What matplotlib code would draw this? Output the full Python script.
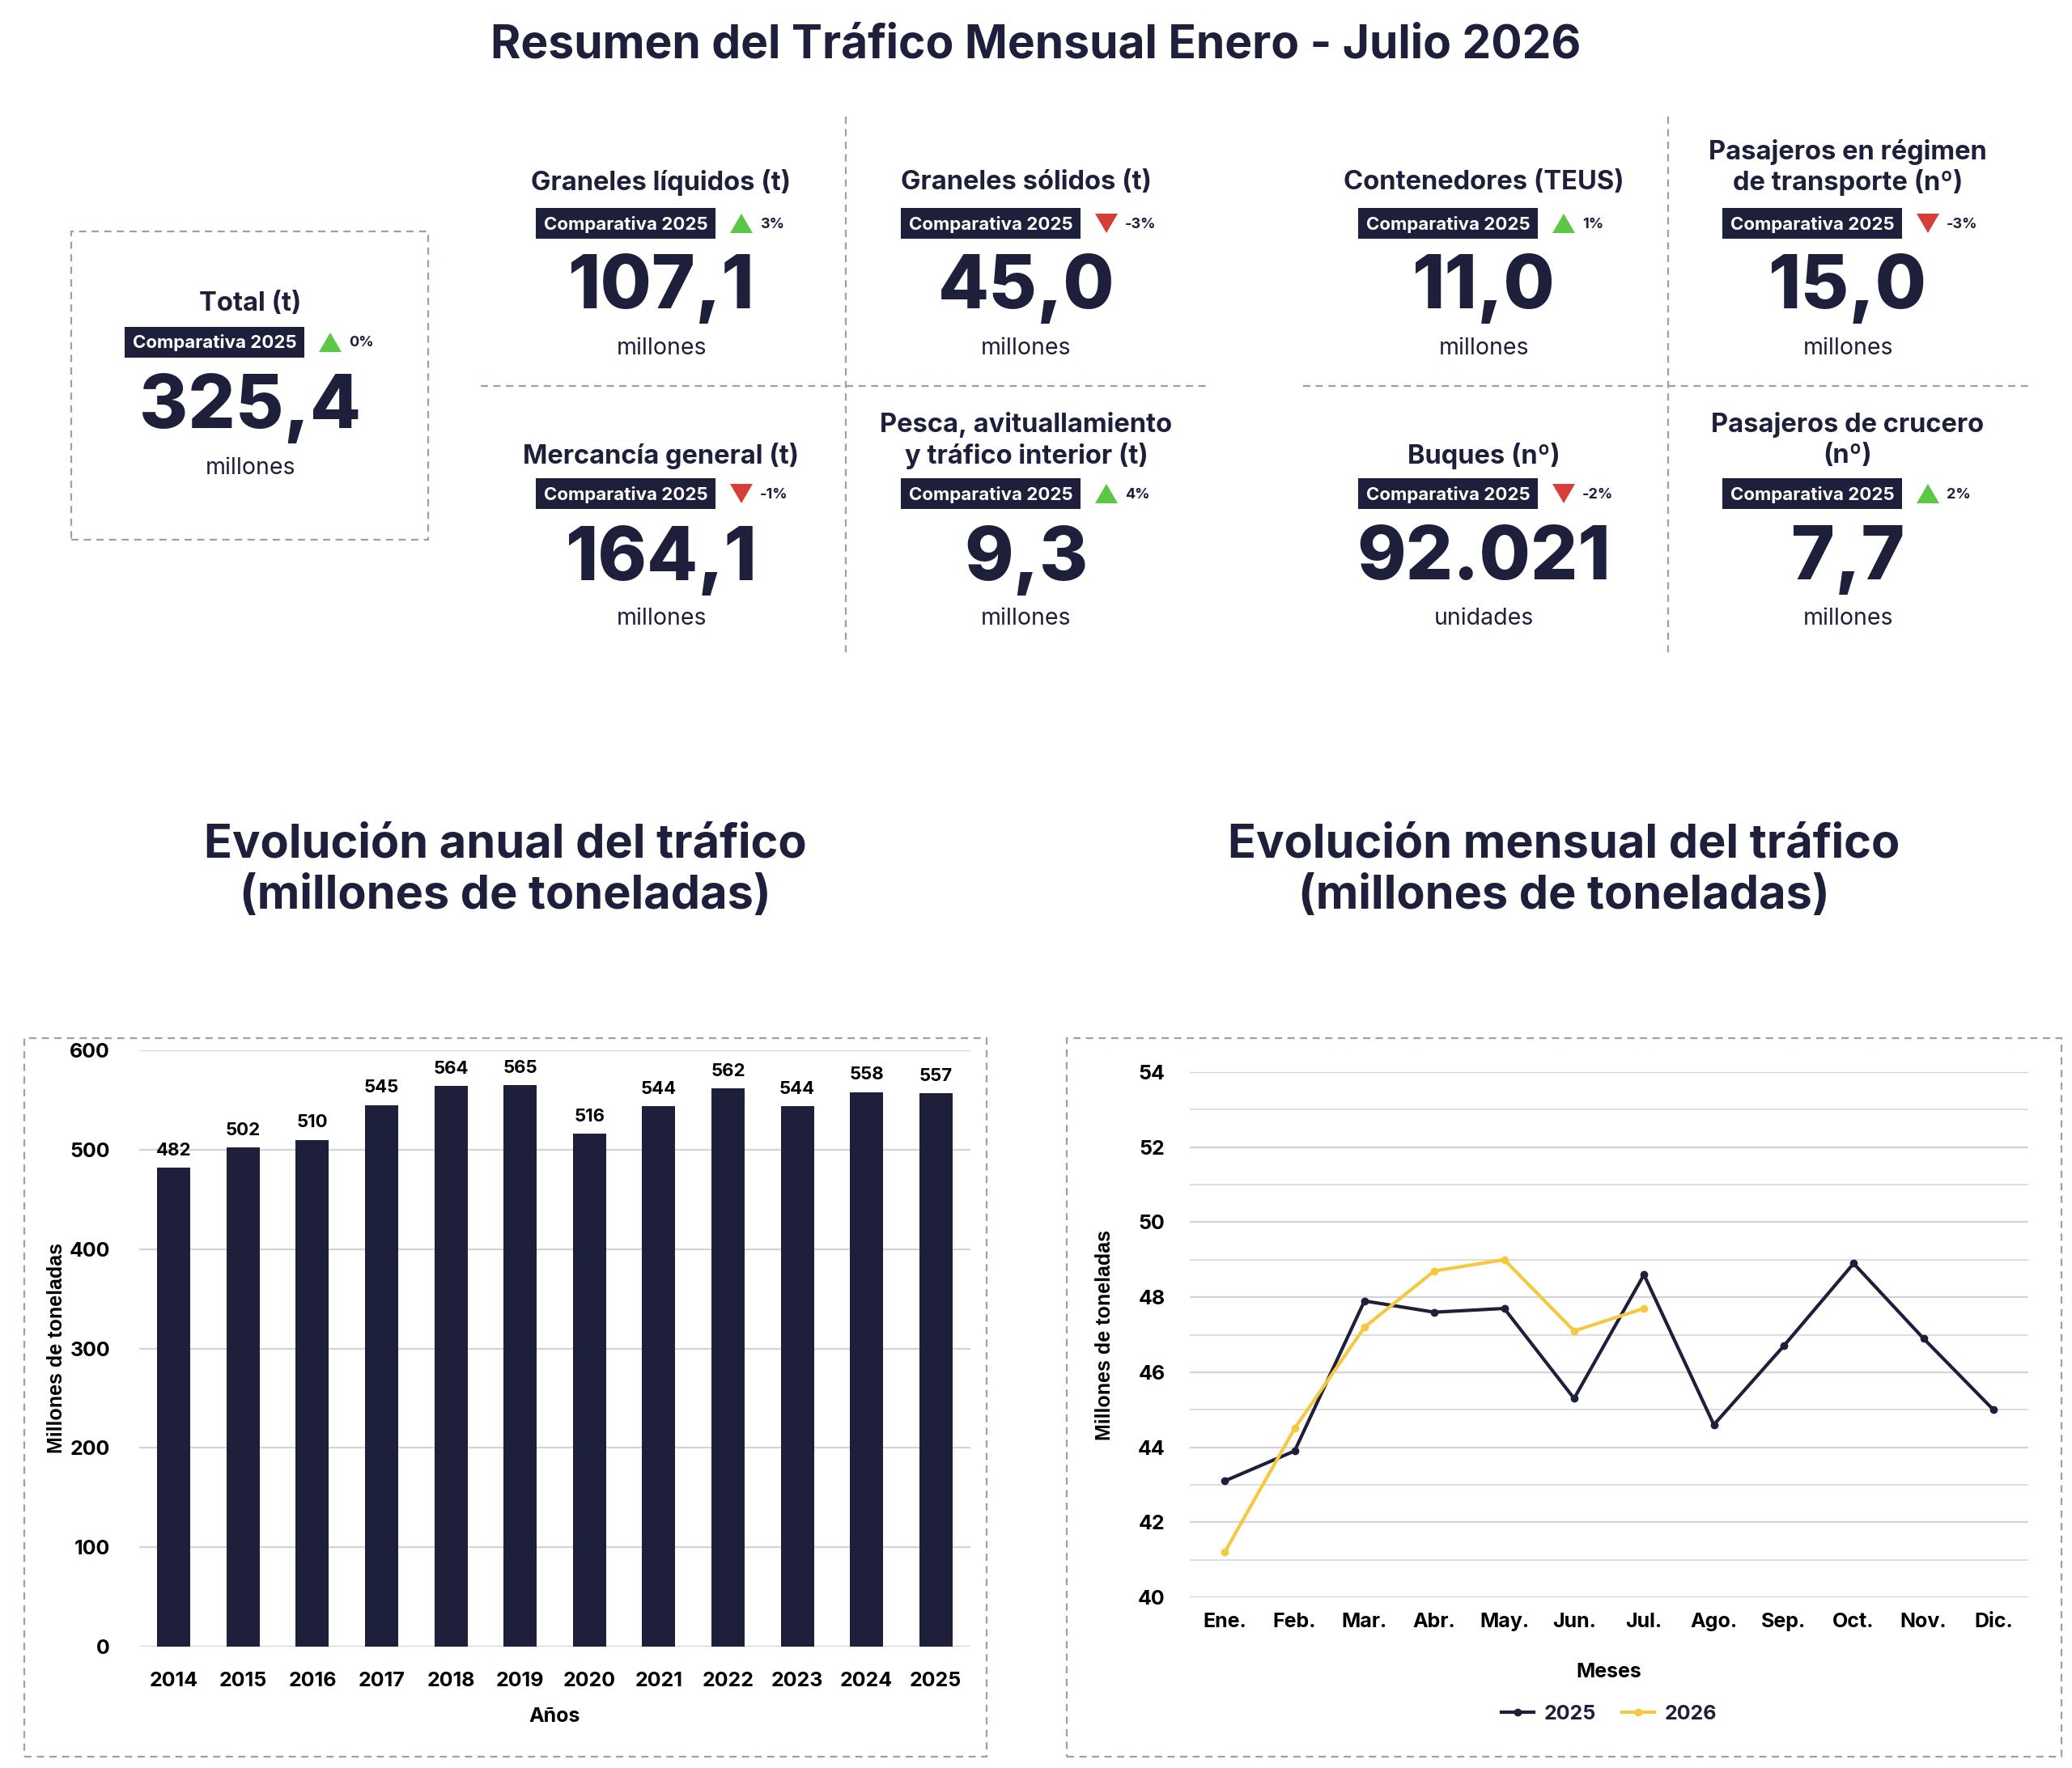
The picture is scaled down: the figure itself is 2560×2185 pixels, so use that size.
import matplotlib
matplotlib.use("Agg")
import matplotlib.pyplot as plt
from matplotlib.patches import Rectangle, Polygon
from matplotlib.lines import Line2D

# ---------------- data ----------------
main_title = "Resumen del Tráfico Mensual Enero - Julio 2026"
badge_label = "Comparativa 2025"

total_title = "Total (t)"
total_value = "325,4"
total_unit = "millones"
total_pct = "0%"
total_up = True

kpi_titles = ["Graneles líquidos (t)", "Graneles sólidos (t)", "Contenedores (TEUS)",
              "Pasajeros en régimen\nde transporte (nº)",
              "Mercancía general (t)", "Pesca, avituallamiento\ny tráfico interior (t)",
              "Buques (nº)", "Pasajeros de crucero\n(nº)"]
kpi_values = ["107,1", "45,0", "11,0", "15,0", "164,1", "9,3", "92.021", "7,7"]
kpi_units = ["millones", "millones", "millones", "millones",
             "millones", "millones", "unidades", "millones"]
kpi_pcts = ["3%", "-3%", "1%", "-3%", "-1%", "4%", "-2%", "2%"]
kpi_up = [True, False, True, False, False, True, False, True]

bar_title = "Evolución anual del tráfico\n(millones de toneladas)"
line_title = "Evolución mensual del tráfico\n(millones de toneladas)"
years = ["2014", "2015", "2016", "2017", "2018", "2019", "2020", "2021", "2022", "2023", "2024", "2025"]
annual = [482, 502, 510, 545, 564, 565, 516, 544, 562, 544, 558, 557]

months = ["Ene.", "Feb.", "Mar.", "Abr.", "May.", "Jun.", "Jul.", "Ago.", "Sep.", "Oct.", "Nov.", "Dic."]
series_2025 = [43.1, 43.9, 47.9, 47.6, 47.7, 45.3, 48.6, 44.6, 46.7, 48.9, 46.9, 45.0]
series_2026 = [41.2, 44.5, 47.2, 48.7, 49.0, 47.1, 47.7]

# ---------------- style ----------------
NAVY = "#1e1f3b"
GREEN = "#5cc646"
RED = "#d63f38"
YELLOW = "#f6c840"
GRID = "#d3d3d8"
DASH = "#9e9cb6"
FONT = "Inter"

plt.rcParams['font.family'] = [FONT, 'DejaVu Sans']

W, H = 2560, 2185
fig = plt.figure(figsize=(W / 100, H / 100), dpi=100)
fig.patch.set_facecolor("white")


def fx(x):
    return x / W


def fy(y):
    return 1 - y / H


def ftext(x, y, s, size, weight="bold", color=NAVY, ha="center", va="center", **kw):
    fig.text(fx(x), fy(y), s, fontsize=size, fontweight=weight, color=color,
             ha=ha, va=va, **kw)


def dashed_line(x0, y0, x1, y1):
    fig.add_artist(Line2D([fx(x0), fx(x1)], [fy(y0), fy(y1)], transform=fig.transFigure,
                          color=DASH, lw=1.6, ls=(0, (4, 3))))


def dashed_box(x0, y0, x1, y1):
    fig.add_artist(Rectangle((fx(x0), fy(y1)), fx(x1) - fx(x0), fy(y0) - fy(y1),
                             transform=fig.transFigure, fill=False, edgecolor=DASH,
                             lw=1.6, ls=(0, (4, 3))))


def badge(cx, cy, pct, up):
    bw, bh = 222, 38
    bx = cx - 44
    fig.add_artist(Rectangle((fx(bx - bw / 2), fy(cy + bh / 2)), bw / W, bh / H,
                             transform=fig.transFigure, facecolor=NAVY, edgecolor="none"))
    ftext(bx, cy + 1, badge_label, 16, color="white")
    tx = cx + 99
    tw, th = 28, 24
    if up:
        pts = [(tx - tw / 2, cy + th / 2), (tx + tw / 2, cy + th / 2), (tx, cy - th / 2)]
        col = GREEN
    else:
        pts = [(tx - tw / 2, cy - th / 2), (tx + tw / 2, cy - th / 2), (tx, cy + th / 2)]
        col = RED
    fig.add_artist(Polygon([(fx(a), fy(b)) for a, b in pts], closed=True,
                           transform=fig.transFigure, facecolor=col, edgecolor="none"))
    ftext(cx + 122, cy + 1, pct, 13, ha="left")


def kpi(cx, title, ty, by, vy, uy, value, unit, pct, up):
    lines = title.split("\n")
    for k, ln in enumerate(reversed(lines)):
        ftext(cx, ty - 38 * k, ln, 23.5, weight="bold")
    badge(cx, by, pct, up)
    ftext(cx, vy, value, 66, weight="heavy")
    ftext(cx, uy, unit, 20.5, weight="normal")


# ---------------- title ----------------
ftext(1280, 56, main_title, 41)

# ---------------- KPI section ----------------
dashed_box(88, 286, 529, 667)
kpi(309, total_title, 376, 423, 505, 579, total_value, total_unit, total_pct, total_up)

cols = [817, 1268, 1833, 2283]
for i in range(8):
    c = cols[i % 4]
    if i < 4:
        ty, by, vy, uy = 226, 276, 356, 430
    else:
        ty, by, vy, uy = 563, 610, 692, 765
    kpi(c, kpi_titles[i], ty, by, vy, uy, kpi_values[i], kpi_units[i], kpi_pcts[i], kpi_up[i])

dashed_line(1045, 144, 1045, 812)
dashed_line(2061, 144, 2061, 812)
dashed_line(594, 477, 1490, 477)
dashed_line(1610, 477, 2506, 477)

# ---------------- section titles ----------------
ftext(624, 1076, bar_title, 41.5, linespacing=1.22)
ftext(1932, 1076, line_title, 41.5, linespacing=1.22)

dashed_box(30, 1283, 1219, 2171)
dashed_box(1318, 1283, 2547, 2171)


def add_axes(x0, y0, x1, y1):
    return fig.add_axes([fx(x0), fy(y1), fx(x1) - fx(x0), fy(y0) - fy(y1)])


# ---------------- bar chart ----------------
ax = add_axes(172, 1298, 1199, 2035)
xs = range(len(years))
bars = ax.bar(xs, annual, width=0.48, color=NAVY, zorder=3)
ax.bar_label(bars, labels=[str(v) for v in annual], padding=8, fontsize=16,
             fontweight="bold", color="black")
ax.set_xlim(-0.5, len(years) - 0.5)
ax.set_ylim(0, 600)
ax.set_yticks(range(0, 601, 100))
ax.set_xticks(list(xs))
ax.set_xticklabels(years)
ax.yaxis.grid(True, color=GRID, lw=1.6, zorder=0)
for s in ax.spines.values():
    s.set_visible(False)
ax.tick_params(axis="both", length=0, labelsize=18, labelcolor="black")
ax.tick_params(axis="x", pad=22)
ax.tick_params(axis="y", pad=26)
for lab in ax.get_xticklabels() + ax.get_yticklabels():
    lab.set_fontweight("bold")
ax.set_xlabel("Años", fontsize=18, fontweight="bold", color="black")
ax.xaxis.set_label_coords(0.5, -0.102)
ax.set_ylabel("Millones de toneladas", fontsize=18, fontweight="bold", color="black",
              family=["Liberation Sans", "DejaVu Sans"])
ax.yaxis.set_label_coords(-0.088, 0.5)

# ---------------- line chart ----------------
ax2 = add_axes(1470, 1325, 2506, 1974)
ax2.plot(range(len(series_2025)), series_2025, color=NAVY, lw=3, marker="o", ms=6,
         label="2025", zorder=3)
ax2.plot(range(len(series_2026)), series_2026, color=YELLOW, lw=3, marker="o", ms=6,
         label="2026", zorder=3)
ax2.set_xlim(-0.5, len(months) - 0.5)
ax2.set_ylim(40, 54)
ax2.set_yticks(range(40, 55, 2))
ax2.set_yticks(range(41, 54, 2), minor=True)
ax2.set_xticks(range(len(months)))
ax2.set_xticklabels(months)
ax2.yaxis.grid(True, which="major", color=GRID, lw=1.6, zorder=0)
ax2.yaxis.grid(True, which="minor", color="#dcdce1", lw=1.4, zorder=0)
for s in ax2.spines.values():
    s.set_visible(False)
ax2.tick_params(axis="both", which="both", length=0, labelsize=18, labelcolor="black")
ax2.tick_params(axis="x", pad=14)
ax2.tick_params(axis="y", pad=22)
for lab in ax2.get_xticklabels() + ax2.get_yticklabels():
    lab.set_fontweight("bold")
ax2.set_xlabel("Meses", fontsize=18, fontweight="bold", color="black")
ax2.xaxis.set_label_coords(0.5, -0.125)
ax2.set_ylabel("Millones de toneladas", fontsize=18, fontweight="bold", color="black",
               family=["Liberation Sans", "DejaVu Sans"])
ax2.yaxis.set_label_coords(-0.09, 0.5)
leg = ax2.legend(loc="center", bbox_to_anchor=(0.5, -0.222), ncol=2, frameon=False,
                 fontsize=18, handlelength=1.6, columnspacing=1.3, handletextpad=0.5)
for t in leg.get_texts():
    t.set_fontweight("bold")
    t.set_color(NAVY)

fig.savefig("out.png", dpi=100, facecolor="white")
